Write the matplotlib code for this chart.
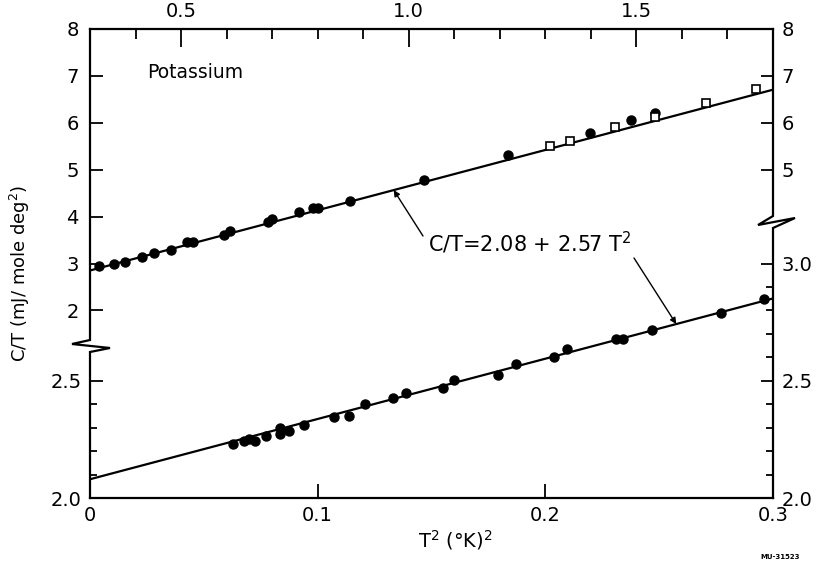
import numpy as np
import matplotlib
matplotlib.use("Agg")
import matplotlib.pyplot as plt

plt.rcParams["font.family"] = ["DejaVu Sans"]
plt.rcParams["mathtext.fontset"] = "dejavusans"

# fit shown on the chart
intercept = 2.08
slope = 2.57

# upper set (top T^2 scale, upper C/T scale)
upper_t2 = [0.319, 0.352, 0.377, 0.414, 0.440, 0.478, 0.513, 0.526, 0.595, 0.608,
            0.690, 0.700, 0.760, 0.790, 0.800, 0.872, 1.033, 1.218, 1.399, 1.489, 1.540]
upper_ct = [2.94, 2.98, 3.04, 3.13, 3.23, 3.28, 3.45, 3.45, 3.60, 3.70,
            3.89, 3.94, 4.10, 4.19, 4.19, 4.34, 4.79, 5.32, 5.79, 6.06, 6.21]
square_t2 = [1.311, 1.355, 1.454, 1.540, 1.652, 1.762]
square_ct = [5.51, 5.62, 5.91, 6.12, 6.43, 6.72]

# lower set (bottom T^2 scale, lower C/T scale)
lower_t2 = [0.0627, 0.0675, 0.070, 0.0724, 0.0775, 0.0833, 0.0833, 0.0873, 0.0939,
            0.107, 0.1137, 0.121, 0.133, 0.139, 0.155, 0.160, 0.179, 0.187, 0.204,
            0.2096, 0.231, 0.234, 0.247, 0.277, 0.296]
lower_ct = [2.231, 2.244, 2.252, 2.244, 2.265, 2.274, 2.300, 2.286, 2.310,
            2.346, 2.350, 2.400, 2.427, 2.449, 2.470, 2.504, 2.526, 2.572, 2.603,
            2.636, 2.680, 2.680, 2.718, 2.790, 2.850]

W, H = 817, 571


def px(x, y):
    return (x / W, 1 - y / H)


fig = plt.figure(figsize=(W / 100, H / 100), dpi=100)
rect = [90 / W, (H - 498) / H, (773 - 90) / W, (498 - 29) / H]

ax = fig.add_axes(rect)
ax.set_xlim(0, 0.3)
ax.set_ylim(2.0, 4.0)
axr = ax.twinx()
axr.set_ylim(2.0, 4.0)

axu = fig.add_axes(rect, frameon=False)
axu.set_xlim(0.3, 1.8)
axu.set_ylim(-2, 8)
axur = axu.twinx()
axur.set_ylim(-2, 8)
for a in (axr, axur):
    for s in a.spines.values():
        s.set_visible(False)

ax.spines["left"].set_visible(False)
ax.spines["right"].set_visible(False)
for s in ("top", "bottom"):
    ax.spines[s].set_linewidth(1.6)

fs = 14
# lower axes ticks
ax.set_xticks([0, 0.1, 0.2, 0.3])
ax.set_xticklabels(["0", "0.1", "0.2", "0.3"])
ax.set_yticks([2.0, 2.5])
ax.set_yticklabels(["2.0", "2.5"])
ax.set_yticks([2.1, 2.2, 2.3, 2.4], minor=True)
ax.tick_params(axis="x", direction="in", length=10, width=1.3, labelsize=fs, pad=6, top=False)
ax.tick_params(axis="y", which="both", direction="in", width=1.3, labelsize=fs, pad=6)
ax.tick_params(axis="y", which="major", length=9)
ax.tick_params(axis="y", which="minor", length=5)

axr.set_yticks([2.0, 2.5, 3.0])
axr.set_yticklabels(["2.0", "2.5", "3.0"])
axr.set_yticks([2.1, 2.2, 2.3, 2.4, 2.6, 2.7, 2.8, 2.9], minor=True)
axr.tick_params(axis="y", which="both", direction="in", width=1.3, labelsize=fs, pad=6)
axr.tick_params(axis="y", which="major", length=9)
axr.tick_params(axis="y", which="minor", length=5)

# upper axes ticks
axu.xaxis.tick_top()
axu.set_xticks([0.5, 1.0, 1.5])
axu.set_xticklabels(["0.5", "1.0", "1.5"])
axu.set_xticks([0.4, 0.6, 0.7, 0.8, 0.9, 1.1, 1.2, 1.3, 1.4, 1.6, 1.7], minor=True)
axu.tick_params(axis="x", which="both", direction="in", width=1.3, labelsize=fs, pad=6)
axu.tick_params(axis="x", which="major", length=13)
axu.tick_params(axis="x", which="minor", length=7)
axu.set_yticks([2, 3, 4, 5, 6, 7, 8])
axu.tick_params(axis="y", direction="in", length=9, width=1.3, labelsize=fs, pad=8)
axur.set_yticks([5, 6, 7, 8])
axur.tick_params(axis="y", direction="in", length=9, width=1.3, labelsize=fs, pad=6)

# fit lines
xl = np.array([0.0, 0.3])
ax.plot(xl, intercept + slope * xl, color="k", lw=1.6)
xu = np.array([0.3, 1.8])
axu.plot(xu, intercept + slope * xu, color="k", lw=1.6)

# data
ax.plot(lower_t2, lower_ct, "o", color="k", ms=6.5)
axu.plot(upper_t2, upper_ct, "o", color="k", ms=6.5)
axu.plot(square_t2, square_ct, "s", mfc="white", mec="k", mew=1.2, ms=6)

# broken side spines
lw = 1.6
kw = dict(color="k", lw=lw, transform=fig.transFigure, clip_on=False, solid_joinstyle="miter")
lx = 90
left = [(lx, 29), (lx, 340), (72, 344), (110, 348), (lx, 352), (lx, 498)]
fig.add_artist(plt.Line2D(*zip(*[px(*p) for p in left]), **kw))
rx = 773
right = [(rx, 29), (rx, 216), (758, 225), (795, 218), (rx, 228), (rx, 498)]
fig.add_artist(plt.Line2D(*zip(*[px(*p) for p in right]), **kw))

# labels
fig.text(*px(20, 273), r"C/T (mJ/ mole deg$^2$)", rotation=90, ha="center", va="center", fontsize=13)
fig.text(*px(455, 540), r"T$^2$ ($\degree$K)$^2$", ha="center", va="center", fontsize=14)
fig.text(*px(147, 72), "Potassium", ha="left", va="center", fontsize=13.5)
fig.text(*px(428, 243), r"C/T=2.08 + 2.57 T$^2$", ha="left", va="center", fontsize=15)
fig.text(*px(780, 557), "MU-31523", ha="center", va="center", fontsize=5, fontweight="bold")

# pointers from the equation to each line
arrow = dict(arrowstyle="-|>", color="k", lw=1.0, mutation_scale=9, shrinkA=0, shrinkB=0)
tu = 0.967
axu.annotate("", xy=(tu, intercept + slope * tu), xytext=px(423, 236),
             textcoords="figure fraction", arrowprops=arrow)
tl = 0.2575
ax.annotate("", xy=(tl, intercept + slope * tl), xytext=px(634, 258),
            textcoords="figure fraction", arrowprops=arrow)

fig.savefig("out.png", dpi=100)
